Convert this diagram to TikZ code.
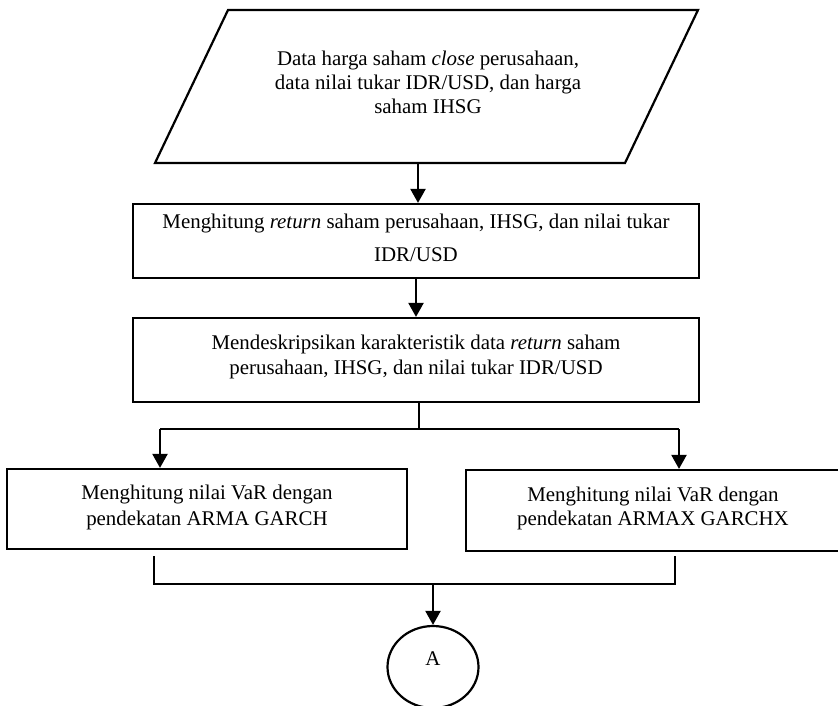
\documentclass[tikz,border=0pt]{standalone}
\usepackage{fontspec}
\setmainfont{Liberation Serif}
\usetikzlibrary{arrows.meta,shapes.geometric}
\tikzset{
  ln/.style={line width=2.2pt, draw=black},
  boxnode/.style={ln, rectangle, inner sep=0pt},
  arr/.style={ln, -{Triangle[length=14pt,width=15pt]}},
  txt/.style={align=center, inner sep=0pt, font=\fontsize{20.9}{#1}\selectfont},
  txt/.default=25
}
\begin{document}
\begin{tikzpicture}[x=1pt,y=-1pt]
\useasboundingbox[fill=white] (0,0) rectangle (838,705);
% parallelogram
\coordinate (p1) at (228,10);
\coordinate (p2) at (698,10);
\coordinate (p3) at (625,163);
\coordinate (p4) at (155,163);
\draw[ln, line join=miter] (p1) -- (p2) -- (p3) -- (p4) -- cycle;
\coordinate (pbot) at (418,163);
\node[txt=24] (ptext) at (428,82) {Data harga saham \textit{close} perusahaan,\\data nilai tukar IDR/USD, dan harga\\saham IHSG};
% box 1
\node[boxnode, minimum width=566pt, minimum height=74pt] (b1) at (416,241) {};
\node[txt=33] (t1) at (416,237.5) {Menghitung \textit{return} saham perusahaan, IHSG, dan nilai tukar\\IDR/USD};
% box 2
\node[boxnode, minimum width=566pt, minimum height=84pt] (b2) at (416,360) {};
\node[txt=25] (t2) at (416,356.5) {Mendeskripsikan karakteristik data \textit{return} saham\\perusahaan, IHSG, dan nilai tukar IDR/USD};
% left and right boxes
\node[boxnode, minimum width=400pt, minimum height=80pt] (lb) at (207,509) {};
\node[txt=26] (lt) at (207,507.5) {Menghitung nilai VaR dengan\\pendekatan ARMA GARCH};
\node[boxnode, minimum width=374pt, minimum height=81pt] (rb) at (653,510.5) {};
\node[txt=24] (rt) at (653,508) {Menghitung nilai VaR dengan\\pendekatan ARMAX GARCHX};
% connector A
\node[ln, ellipse, minimum width=91pt, minimum height=82pt, inner sep=0pt] (A) at (433,667) {};
\node[txt] (At) at (433,659) {A};
% connectors
\draw[arr] (pbot) -- (pbot |- b1.north);
\draw[arr] (b1.south) -- (b2.north);
\coordinate (j1) at (419,429);
\coordinate (hl) at (160,429);
\coordinate (hr) at (679,429);
\draw[ln] (j1 |- b2.south) -- (j1);
\draw[ln] (hl) -- (hr);
\draw[arr] (hl) -- (hl |- lb.north);
\draw[arr] (hr) -- (hr |- rb.north);
\coordinate (cl) at (154,556);
\coordinate (cl2) at (154,584);
\coordinate (cr) at (675,556);
\coordinate (cr2) at (675,584);
\draw[ln, line join=miter] (cl) -- (cl2) -- (cr2) -- (cr);
\coordinate (j2) at (433,584);
\draw[arr] (j2) -- (A.north);
\end{tikzpicture}
\end{document}
